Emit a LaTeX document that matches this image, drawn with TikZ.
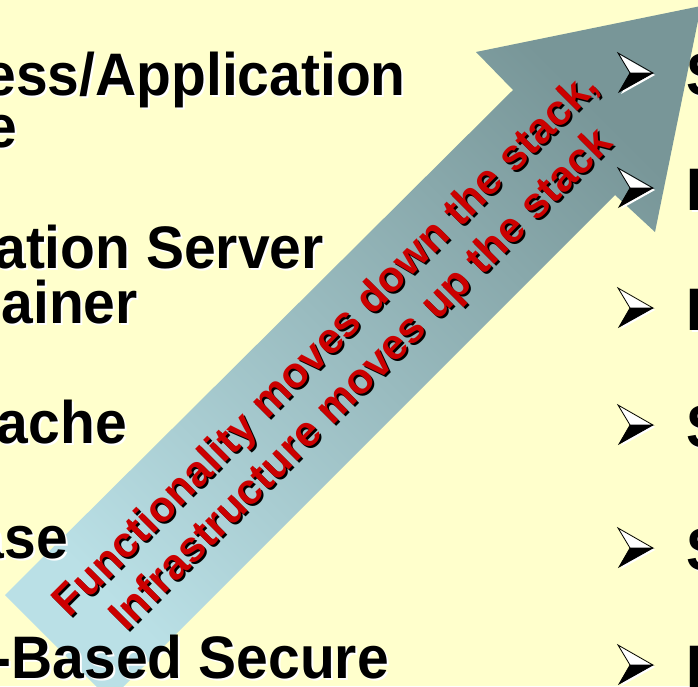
\documentclass[tikz,border=0pt]{standalone}
\usepackage{fontspec}
\setmainfont{Liberation Sans}
\newfontfamily\slidefont[FakeStretch=0.95]{Liberation Sans}
\definecolor{slidebg}{RGB}{255,255,204}
\definecolor{arrowlight}{RGB}{186,224,230}
\definecolor{arrowdark}{RGB}{120,150,152}
\definecolor{stackred}{RGB}{204,0,0}
\begin{document}
\begin{tikzpicture}[x=1pt,y=-1pt,line join=round]
    \tikzset{item/.style={font=\slidefont\fontsize{60}{60}\selectfont\bfseries,inner sep=0pt},
             redline/.style={font=\fontsize{43}{50}\selectfont\bfseries,align=center,inner sep=0pt,rotate=45},
             bull/.pic={
                 \fill[white,shift={(2,2)}] (-17,-20) -- (18,0) -- (-16,19) -- (-5,0) -- cycle;
                 \fill[black] (18,0) -- (-16,19) -- (-5,0) -- cycle;
                 \draw[white,line width=1.2pt] (-13,-15) -- (12,-1) -- (-4,-1) -- cycle;
                 \draw[black,line width=0.8pt,line join=miter] (-17,-20) -- (18,0) -- (-5,0) -- cycle;
                 \draw[black,line width=0.8pt,line join=miter] (18,0) -- (-16,19) -- (-5,0);
             }}
    \useasboundingbox (0,0) rectangle (698,686);
    \clip (0,0) rectangle (698,686);
    \fill[slidebg] (0,0) rectangle (698,686);
    % the big stack arrow
    \shade[left color=arrowlight,right color=arrowdark,shading angle=135]
        (5,595) -- (513,90) -- (476,52) -- (701,6) -- (655,232) -- (615,195) -- (110,700) -- cycle;
    % left column
    \foreach \x/\y/\t [count=\i] in {406/95/{ess/Application},17/147/e,324/268/ation Server,138/323/ainer,127/443/ache,68/558/ase,389/678/-Based Secure}{
        \node[item,white,anchor=base east] (ls\i) at (\x+2,\y+2) {\t};
        \node[item,anchor=base east] (l\i) at (\x,\y) {\t};
    }
    % right column
    \foreach \y/\t [count=\i] in {95/S,210/F,330/L,447/S,570/S,687/F}{
        \pic at (635,\y-22) {bull};
        \node[item,white,anchor=base west] (rs\i) at (688,\y+2) {\t};
        \node[item,anchor=base west] (r\i) at (686,\y) {\t};
    }
    \node[redline,black] (upshadow) at (347,365) {Functionality moves down the stack,\\Infrastructure moves up the stack};
    \node[redline,stackred] (up) at (345,363) {Functionality moves down the stack,\\Infrastructure moves up the stack};
\end{tikzpicture}
\end{document}
